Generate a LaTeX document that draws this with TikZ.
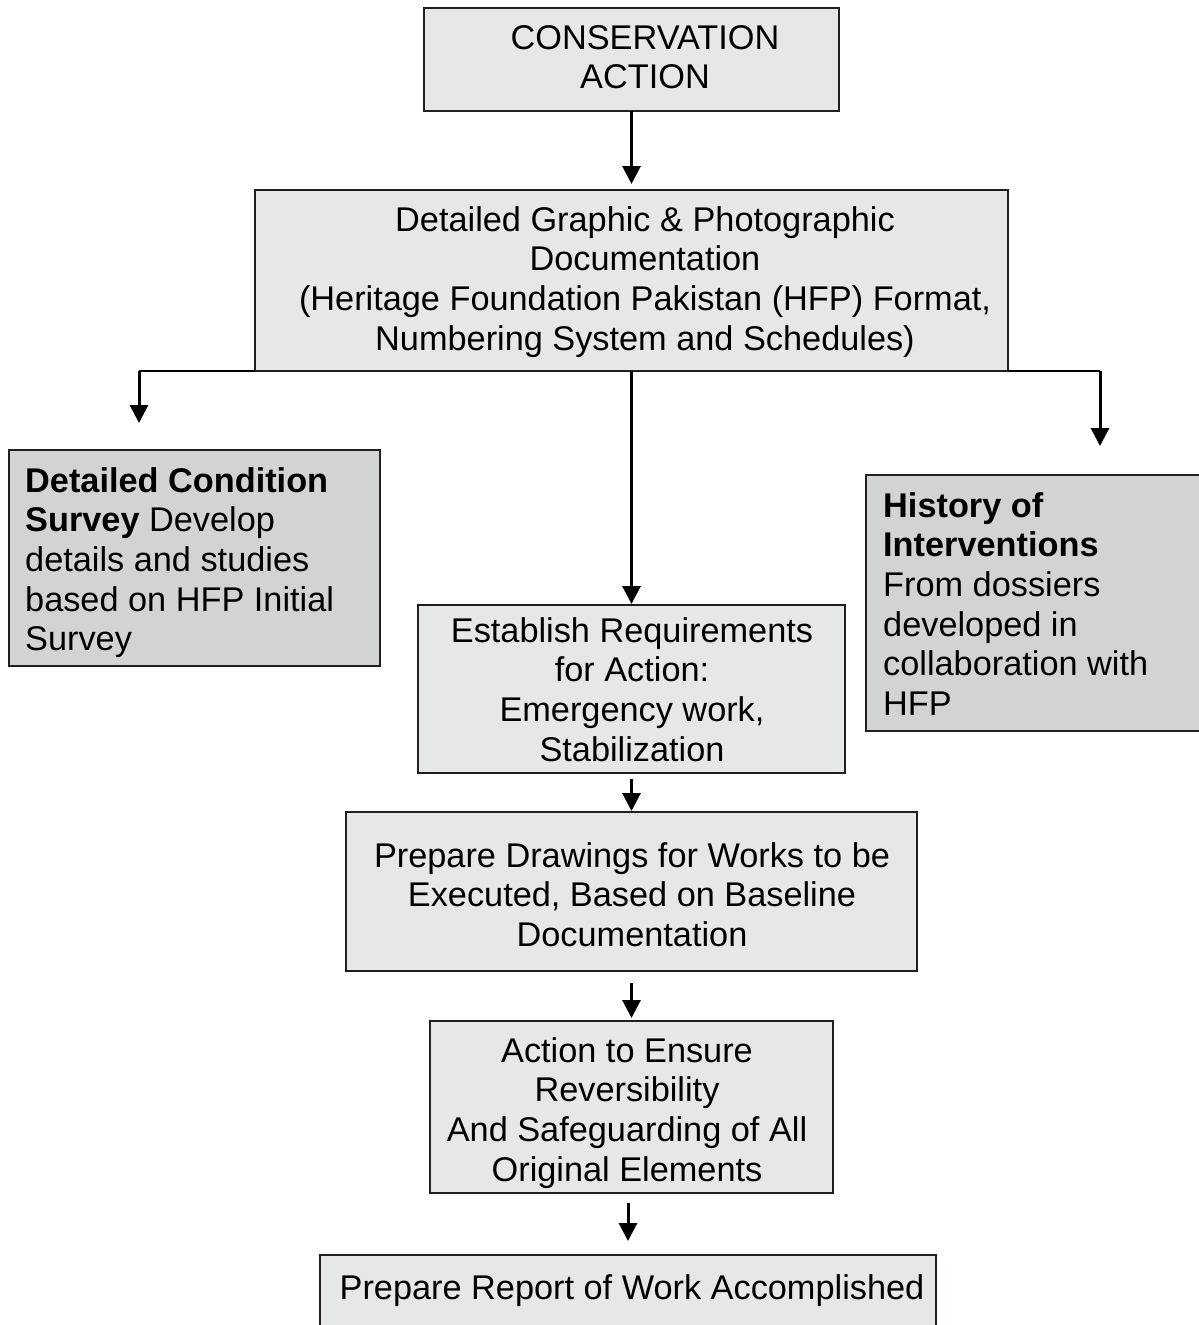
\documentclass[tikz,border=0pt]{standalone}
\usepackage{fontspec}
\setmainfont{Liberation Sans}
\usetikzlibrary{arrows.meta}
\definecolor{boxlight}{HTML}{E6E7E8}
\definecolor{boxdark}{HTML}{D1D3D4}
\definecolor{ink}{HTML}{231F20}
\begin{document}
\begin{tikzpicture}[x=1pt,y=-1pt,
  frame/.style={draw=ink, line width=2pt, fill=boxlight, inner sep=0pt, outer sep=0pt, anchor=north west},
  sidebox/.style={frame, fill=boxdark},
  label/.style={inner sep=0pt, anchor=north, font=\fontsize{34.3}{39.6}\selectfont, text=black, align=center},
  leftlabel/.style={label, anchor=north west, align=left},
  flow/.style={draw=black, line width=3pt, -{Triangle[width=18pt,length=18pt]}},
  branch/.style={draw=black, line width=2pt},
]
\useasboundingbox (0,0) rectangle (1199,1325);

% boxes
\node[frame, minimum width=415pt, minimum height=103pt] (b1) at (424,8) {};
\node[frame, minimum width=753pt, minimum height=181pt] (b2) at (255,190) {};
\node[sidebox, minimum width=371pt, minimum height=216pt] (b3) at (9,450) {};
\node[sidebox, minimum width=344pt, minimum height=256pt] (b4) at (866,475) {};
\node[frame, minimum width=427pt, minimum height=168pt] (b5) at (418,605) {};
\node[frame, minimum width=571pt, minimum height=159pt] (b6) at (346,812) {};
\node[frame, minimum width=403pt, minimum height=172pt] (b7) at (430,1021) {};
\node[frame, minimum width=616pt, minimum height=90pt] (b8) at (320,1255) {};

% texts
\node[label] (t1) at (645,21.3) {\strut CONSERVATION\\ACTION};
\node[label] (t2) at (645,203.3) {\strut Detailed Graphic \& Photographic\\Documentation\\(Heritage Foundation Pakistan (HFP) Format,\\Numbering System and Schedules)};
\node[leftlabel] (t3) at (25,464.3) {\strut\textbf{Detailed Condition}\\\textbf{Survey} Develop\\details and studies\\based on HFP Initial\\Survey};
\node[leftlabel] (t4) at (883,489.3) {\strut\textbf{History of}\\\textbf{Interventions}\\From dossiers\\developed in\\collaboration with\\HFP};
\node[label] (t5) at (632,614.3) {\strut Establish Requirements\\for Action:\\Emergency work,\\Stabilization};
\node[label] (t6) at (632,839.3) {\strut Prepare Drawings for Works to be\\Executed, Based on Baseline\\Documentation};
\node[label] (t7) at (627,1034.3) {\strut Action to Ensure\\Reversibility\\And Safeguarding of All\\Original Elements};
\node[label] (t8) at (632,1271.3) {\strut Prepare Report of Work Accomplished};

% branch points below the documentation box
\coordinate (lt) at (139,371);
\coordinate (rt) at (1100,371);

% connectors
\draw[flow, shorten >=6pt] (b1) -- (b2);
\draw[branch] (b2.south west) -- (lt);
\draw[branch] (b2.south east) -- (rt);
\draw[flow, shorten >=27pt] (lt) -- (lt |- b3.north);
\draw[flow, shorten >=29pt] (rt) -- (rt |- b4.north);
\draw[flow, shorten >=1pt] (b2) -- (b5);
\draw[flow, shorten <=6pt, shorten >=1pt] (b5) -- (b6);
\draw[flow, shorten <=12pt, shorten >=3pt] (b6) -- (b7);
\draw[flow, shorten <=10pt, shorten >=14pt] (b7.south -| b8.north) -- (b8.north);
\end{tikzpicture}
\end{document}
